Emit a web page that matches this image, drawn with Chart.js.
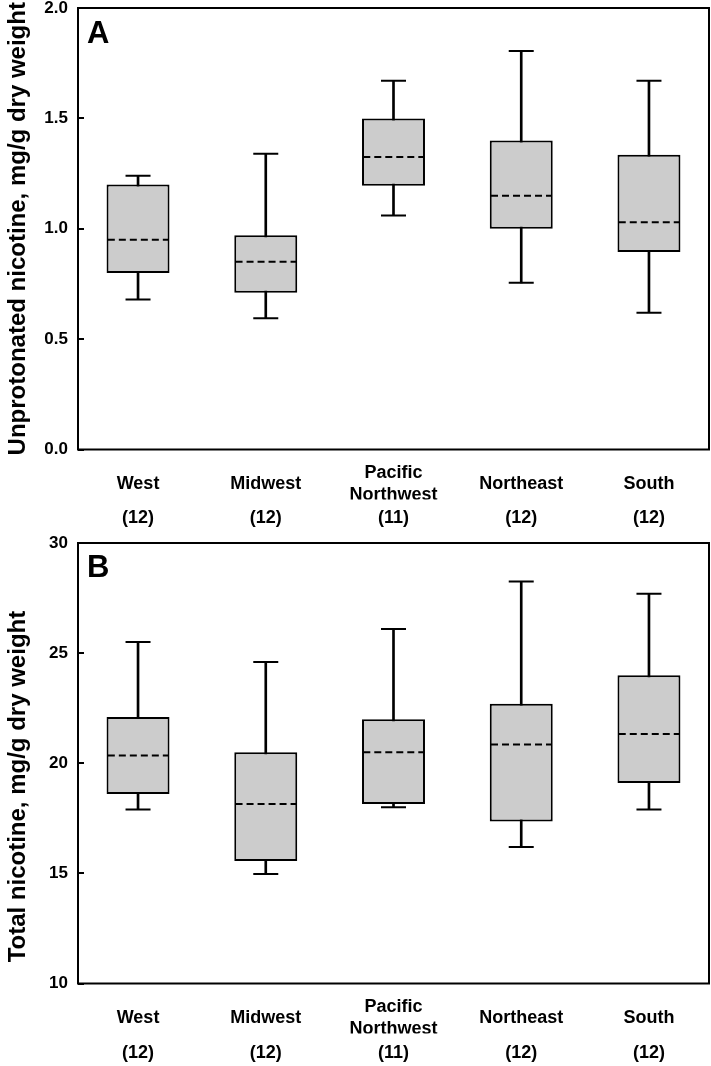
<!DOCTYPE html>
<html>
<head>
<meta charset="utf-8">
<script src="https://cdn.jsdelivr.net/npm/chart.js@4"></script>
<style>
  html, body { margin: 0; padding: 0; background: #fff; }
  .panel { position: absolute; left: 0; width: 711px; height: 533px; }
  #panelA { top: 0; }
  #panelB { top: 533px; }
</style>
</head>
<body>
<div class="panel" id="panelA"><canvas id="chartA" width="711" height="533"></canvas></div>
<div class="panel" id="panelB"><canvas id="chartB" width="711" height="533"></canvas></div>
<script>
// categories
const regionNames = [["West"], ["Midwest"], ["Pacific", "Northwest"], ["Northeast"], ["South"]];
const sampleSizes = ["(12)", "(12)", "(11)", "(12)", "(12)"];

// Panel A - unprotonated nicotine (mg/g dry weight)
const unprotMin = [0.68, 0.595, 1.06, 0.755, 0.62];
const unprotQ1  = [0.80, 0.71, 1.195, 1.00, 0.895];
const unprotMed = [0.95, 0.85, 1.325, 1.15, 1.03];
const unprotQ3  = [1.20, 0.97, 1.50, 1.40, 1.335];
const unprotMax = [1.24, 1.34, 1.67, 1.805, 1.67];

// Panel B - total nicotine (mg/g dry weight)
const totalMin = [17.9, 14.97, 18.0, 16.2, 17.9];
const totalQ1  = [18.6, 15.56, 18.15, 17.35, 19.1];
const totalMed = [20.35, 18.15, 20.5, 20.85, 21.33];
const totalQ3  = [22.1, 20.5, 22.0, 22.7, 24.0];
const totalMax = [25.5, 24.6, 26.1, 28.25, 27.7];

const BOX_WIDTH = 0.493;   // fraction of one category step
const X_PAD = 0.47;

const tickFont = { family: "'Liberation Sans', Arial, sans-serif", size: 17, weight: "bold" };
const labelFont = { family: "'Liberation Sans', Arial, sans-serif", size: 18, weight: "bold", lineHeight: 22 / 18 };

// frame + panel letter
const framePlugin = {
    id: "frame",
    afterDraw(chart, args, o) {
        const { ctx, chartArea: a } = chart;
        ctx.save();
        ctx.strokeStyle = "#000";
        ctx.lineWidth = 2;
        ctx.strokeRect(a.left, a.top, a.right - a.left, a.bottom - a.top);
        ctx.fillStyle = "#000";
        ctx.font = "bold 31px 'Liberation Sans', Arial, sans-serif";
        ctx.textBaseline = "alphabetic";
        ctx.fillText(o.letter, a.left + 9, a.top + o.dy);
        ctx.restore();
    }
};

function fitX(height) {
    return sc => {
        sc.height = height;
        sc.paddingLeft = 0;
        sc.paddingRight = 0;
    };
}

function fitY(sc) {
    sc.width = 78;
    sc.paddingTop = 0;
    sc.paddingBottom = 0;
}

function boxChart(canvasId, s) {
    const idx = regionNames.map((_, i) => i);
    return new Chart(document.getElementById(canvasId), {
        type: "bar",
        data: {
            datasets: [
                {
                    type: "bar",
                    data: idx.map(i => ({ x: i, y: [s.min[i], s.max[i]] })),
                    backgroundColor: "#000",
                    borderWidth: 0,
                    barThickness: 2,
                    grouped: false,
                    order: 3
                },
                {
                    type: "bar",
                    data: idx.map(i => ({ x: i, y: [s.q1[i], s.q3[i]] })),
                    backgroundColor: "#cccccc",
                    borderColor: "#000",
                    borderWidth: 2,
                    borderSkipped: false,
                    categoryPercentage: 1,
                    barPercentage: BOX_WIDTH,
                    grouped: false,
                    order: 2
                },
                {
                    type: "line",
                    data: idx.flatMap(i => [
                        { x: i - BOX_WIDTH / 2 + 0.01, y: s.med[i] },
                        { x: i + BOX_WIDTH / 2 - 0.01, y: s.med[i] },
                        { x: i + 0.5, y: null }
                    ]),
                    borderColor: "#000",
                    borderWidth: 2,
                    borderDash: [7, 4],
                    pointRadius: 0,
                    spanGaps: false,
                    order: 1
                },
                {
                    type: "scatter",
                    data: idx.flatMap(i => [{ x: i, y: s.min[i] }, { x: i, y: s.max[i] }]),
                    pointStyle: "line",
                    pointRadius: 12.5,
                    pointBorderWidth: 2,
                    borderColor: "#000",
                    order: 0
                }
            ]
        },
        options: {
            responsive: false,
            animation: false,
            layout: { autoPadding: false, padding: { top: s.padTop, right: 2, left: 0, bottom: 0 } },
            plugins: {
                legend: { display: false },
                tooltip: { enabled: false },
                frame: { letter: s.letter, dy: s.letterDy }
            },
            scales: {
                x: {
                    type: "linear",
                    min: -X_PAD,
                    max: regionNames.length - 1 + X_PAD,
                    offset: false,
                    weight: 0,
                    grid: { display: false, drawTicks: false },
                    border: { display: false },
                    afterBuildTicks: sc => { sc.ticks = idx.map(i => ({ value: i })); },
                    afterFit: fitX(50),
                    ticks: {
                        autoSkip: false,
                        maxRotation: 0,
                        crossAlign: "center",
                        padding: 23.5,
                        color: "#000",
                        font: labelFont,
                        callback: v => regionNames[v]
                    }
                },
                xCount: {
                    type: "linear",
                    position: "bottom",
                    min: -X_PAD,
                    max: regionNames.length - 1 + X_PAD,
                    offset: false,
                    weight: 1,
                    grid: { display: false, drawTicks: false },
                    border: { display: false },
                    afterBuildTicks: sc => { sc.ticks = idx.map(i => ({ value: i })); },
                    afterFit: fitX(s.countHeight),
                    ticks: {
                        autoSkip: false,
                        maxRotation: 0,
                        padding: s.countPad,
                        color: "#000",
                        font: labelFont,
                        callback: v => sampleSizes[v]
                    }
                },
                y: {
                    min: s.yMin,
                    max: s.yMax,
                    border: { display: false },
                    grid: {
                        drawOnChartArea: false,
                        drawTicks: true,
                        tickLength: -6,
                        lineWidth: 2,
                        color: "#000"
                    },
                    afterFit: fitY,
                    ticks: {
                        stepSize: s.step,
                        padding: 16,
                        color: "#000",
                        font: tickFont,
                        callback: v => s.fmt(v)
                    },
                    title: {
                        display: true,
                        text: s.title,
                        color: "#000",
                        font: { family: "'Liberation Sans', Arial, sans-serif", size: 24, weight: "bold" },
                        padding: { top: 4, bottom: 0 }
                    }
                }
            }
        },
        plugins: [framePlugin]
    });
}

boxChart("chartA", {
    min: unprotMin, q1: unprotQ1, med: unprotMed, q3: unprotQ3, max: unprotMax,
    yMin: 0, yMax: 2, step: 0.5, fmt: v => v.toFixed(1),
    title: "Unprotonated nicotine, mg/g dry weight",
    letter: "A", letterDy: 35,
    padTop: 8, countHeight: 33.5, countPad: 7.5
});

boxChart("chartB", {
    min: totalMin, q1: totalQ1, med: totalMed, q3: totalQ3, max: totalMax,
    yMin: 10, yMax: 30, step: 5, fmt: v => String(v),
    title: "Total nicotine, mg/g dry weight       ",
    letter: "B", letterDy: 34,
    padTop: 10, countHeight: 32.5, countPad: 8.5
});
</script>
</body>
</html>
